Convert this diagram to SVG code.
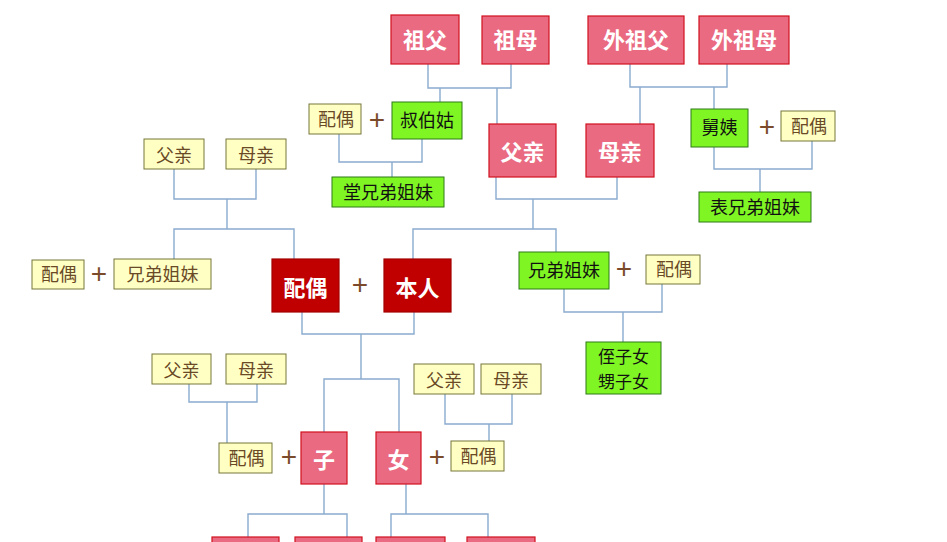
<svg xmlns="http://www.w3.org/2000/svg" width="947" height="542" viewBox="0 0 947 542">
<style>
.pk rect{fill:#E96A81;stroke:#D0121E;stroke-width:1.2}
.dr rect{fill:#C00000;stroke:#A30000;stroke-width:1.2}
.ye rect{fill:#FFFFC4;stroke:#76763A;stroke-width:1}
.gr rect{fill:#80F524;stroke:#2E7A18;stroke-width:1}
.pk text,.dr text{fill:#fff;font-weight:bold;font-size:22px}
.ye text{fill:#6A4A26;font-size:18px}
.gr text{fill:#111;font-size:18px}
text{font-family:"Microsoft YaHei","Noto Sans CJK SC",sans-serif;text-anchor:middle;dominant-baseline:central}
.plus{fill:#7A4A2A;font-family:"Liberation Sans",sans-serif;font-size:28px}
#connectors path{fill:none;stroke:#8AABCF;stroke-width:1.4}
</style>
<rect width="947" height="542" fill="#fff"/>
<g id="connectors">
<path d="M428,64 V88 H511 V64 M440,88 V102 M497,88 V124"/>
<path d="M630,64 V87 H727 V64 M640,87 V124 M714,87 V109"/>
<path d="M339,134 V162 H422 V139 M392,162 V177"/>
<path d="M714,147 V169 H812 V141 M760,169 V192"/>
<path d="M496,177 V199 H617 V177 M533,199 V229"/>
<path d="M413,259 V229 H556 V252"/>
<path d="M174,169 V199 H256 V169 M227,199 V229 M174,259 V229 H294 V259"/>
<path d="M302,312 V334 H414 V312 M361,334 V379 M324,432 V379 H399 V432"/>
<path d="M564,289 V312 H662 V284 M623,312 V342"/>
<path d="M189,384 V402 H257 V384 M227,402 V443"/>
<path d="M445,394 V424 H512 V394 M489,424 V441"/>
<path d="M324,484 V514 M248,538 V514 H347 V538"/>
<path d="M406,484 V514 M391,538 V514 H488 V538"/>
</g>
<g id="zufu" class="pk"><rect x="391" y="15" width="68" height="49"/><text x="425" y="38">祖父</text></g>
<g id="zumu" class="pk"><rect x="482" y="16" width="67" height="48"/><text x="515.5" y="38">祖母</text></g>
<g id="waizufu" class="pk"><rect x="588" y="16" width="96" height="48"/><text x="636" y="38">外祖父</text></g>
<g id="waizumu" class="pk"><rect x="699" y="16" width="90" height="48"/><text x="744" y="38">外祖母</text></g>
<g id="peiou-shubogu" class="ye"><rect x="309" y="104" width="52" height="30"/><text x="336" y="118">配偶</text></g>
<text class="plus" x="377" y="119">+</text>
<g id="shubogu" class="gr"><rect x="392" y="102" width="70" height="37"/><text x="427" y="119">叔伯姑</text></g>
<g id="tangxiongdi" class="gr"><rect x="332" y="177" width="112" height="30"/><text x="388" y="191">堂兄弟姐妹</text></g>
<g id="fuqin" class="pk"><rect x="489" y="124" width="67" height="53"/><text x="522.5" y="150">父亲</text></g>
<g id="muqin" class="pk"><rect x="586" y="124" width="68" height="53"/><text x="620" y="150">母亲</text></g>
<g id="jiuyi" class="gr"><rect x="691" y="109" width="57" height="38"/><text x="719.5" y="126">舅姨</text></g>
<text class="plus" x="767" y="126">+</text>
<g id="peiou-jiuyi" class="ye"><rect x="781" y="111" width="54" height="30"/><text x="809" y="125">配偶</text></g>
<g id="biaoxiongdi" class="gr"><rect x="699" y="192" width="112" height="30"/><text x="755" y="206">表兄弟姐妹</text></g>
<g id="fuqin-l" class="ye"><rect x="144" y="139" width="60" height="30"/><text x="174" y="154">父亲</text></g>
<g id="muqin-l" class="ye"><rect x="226" y="139" width="60" height="30"/><text x="256" y="154">母亲</text></g>
<g id="peiou-l" class="ye"><rect x="32" y="260" width="52" height="29"/><text x="59" y="273">配偶</text></g>
<text class="plus" x="99" y="273">+</text>
<g id="xiongdi-l" class="ye"><rect x="114" y="259" width="97" height="30"/><text x="162.5" y="273">兄弟姐妹</text></g>
<g id="peiou" class="dr"><rect x="272" y="259" width="67" height="53"/><text x="305.5" y="286">配偶</text></g>
<text class="plus" x="360" y="284">+</text>
<g id="benren" class="dr"><rect x="384" y="259" width="67" height="53"/><text x="417.5" y="286">本人</text></g>
<g id="xiongdi" class="gr"><rect x="519" y="252" width="90" height="37"/><text x="564" y="269">兄弟姐妹</text></g>
<text class="plus" x="624" y="268">+</text>
<g id="peiou-xd" class="ye"><rect x="646" y="255" width="54" height="29"/><text x="674" y="268">配偶</text></g>
<g id="zhizinv" class="gr"><rect x="586" y="342" width="75" height="52"/><text x="623.5" y="355.5" style="font-size:17px">侄子女</text><text x="623.5" y="380.5" style="font-size:17px">甥子女</text></g>
<g id="fuqin-z" class="ye"><rect x="152" y="354" width="59" height="30"/><text x="181.5" y="369">父亲</text></g>
<g id="muqin-z" class="ye"><rect x="226" y="354" width="60" height="30"/><text x="256" y="369">母亲</text></g>
<g id="peiou-z" class="ye"><rect x="219" y="443" width="53" height="30"/><text x="246.5" y="457">配偶</text></g>
<text class="plus" x="289" y="456">+</text>
<g id="zi" class="pk"><rect x="301" y="432" width="46" height="52"/><text x="324" y="458">子</text></g>
<g id="nv" class="pk"><rect x="376" y="432" width="45" height="52"/><text x="398.5" y="458">女</text></g>
<text class="plus" x="437" y="456">+</text>
<g id="fuqin-n" class="ye"><rect x="414" y="364" width="60" height="30"/><text x="444" y="379">父亲</text></g>
<g id="muqin-n" class="ye"><rect x="481" y="364" width="60" height="30"/><text x="511" y="379">母亲</text></g>
<g id="peiou-n" class="ye"><rect x="451" y="441" width="53" height="30"/><text x="478.5" y="455">配偶</text></g>
<g id="sun1" class="pk"><rect x="212" y="537" width="67" height="53"/></g>
<g id="sun2" class="pk"><rect x="295" y="537" width="67" height="53"/></g>
<g id="sun3" class="pk"><rect x="376" y="537" width="69" height="53"/></g>
<g id="sun4" class="pk"><rect x="467" y="537" width="68" height="53"/></g>
</svg>
